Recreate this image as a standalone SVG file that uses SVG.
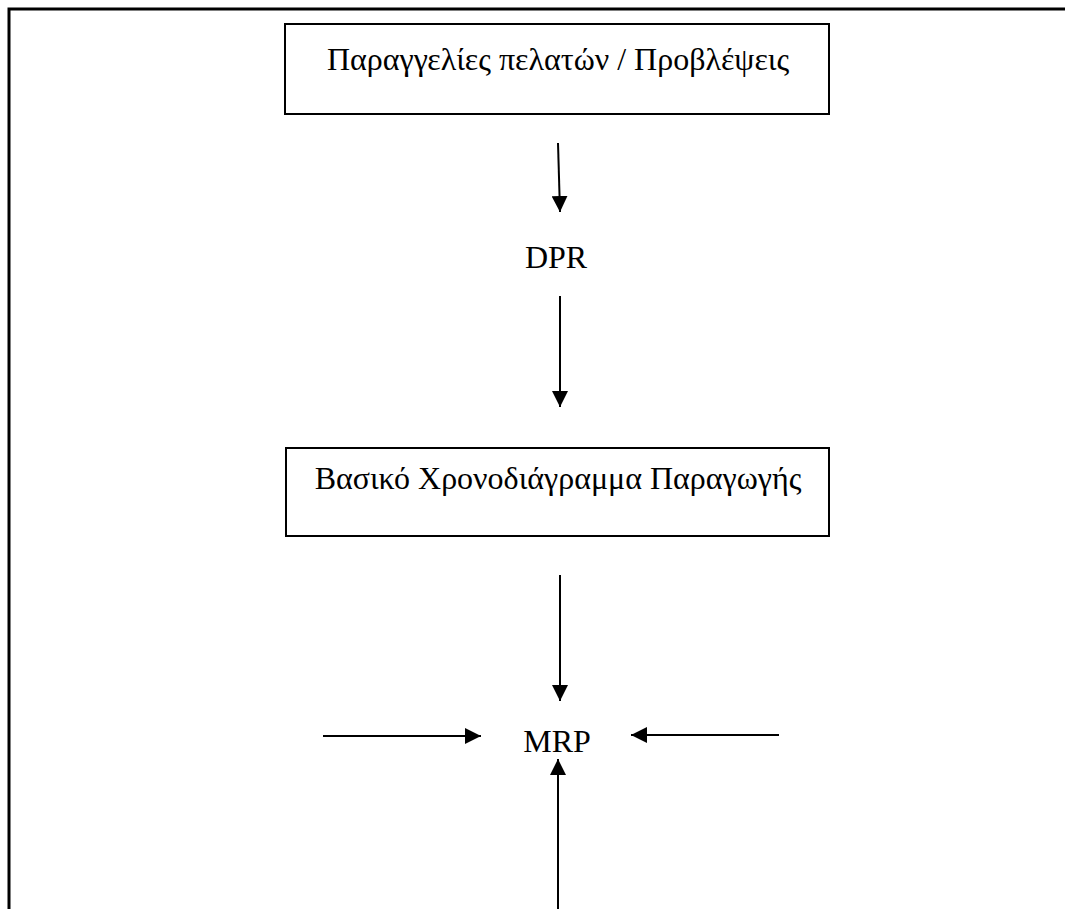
<svg xmlns="http://www.w3.org/2000/svg" width="1065" height="909" viewBox="0 0 1065 909">
<defs>
<marker id="ah" viewBox="0 0 10 10" refX="10" refY="5" markerWidth="8" markerHeight="8" orient="auto" markerUnits="strokeWidth">
<path d="M0,0 L10,5 L0,10 Z" fill="#000"/>
</marker>
<style>
.box{fill:#fff;stroke:#000;stroke-width:2}
.t{font-family:"Liberation Serif","Times New Roman",serif;font-size:32px;fill:#000;text-anchor:middle}
.c{stroke:#000;stroke-width:2;fill:none;marker-end:url(#ah)}
.frame{stroke:#000;stroke-width:3;fill:none}
</style>
</defs>
<rect width="1065" height="909" fill="#fff"/>
<g id="frame"><path class="frame" d="M9,909 L9,9 L1065,9"/></g>
<g id="orders"><rect class="box" x="285" y="24" width="544" height="90"/><text class="t" x="558" y="70">Παραγγελίες πελατών / Προβλέψεις</text></g>
<g id="dpr"><text class="t" x="556" y="268">DPR</text></g>
<g id="mps"><rect class="box" x="286" y="448" width="543" height="88"/><text class="t" x="558" y="489">Βασικό Χρονοδιάγραμμα Παραγωγής</text></g>
<g id="mrp"><text class="t" x="557" y="752">MRP</text></g>
<g id="connectors">
<line class="c" x1="558" y1="143" x2="560" y2="212"/>
<line class="c" x1="560" y1="296" x2="560" y2="407"/>
<line class="c" x1="560" y1="575" x2="560" y2="701"/>
<line class="c" x1="323" y1="736" x2="481" y2="736"/>
<line class="c" x1="779" y1="735" x2="631" y2="735"/>
<line class="c" x1="558" y1="909" x2="558" y2="759"/>
</g>
</svg>
